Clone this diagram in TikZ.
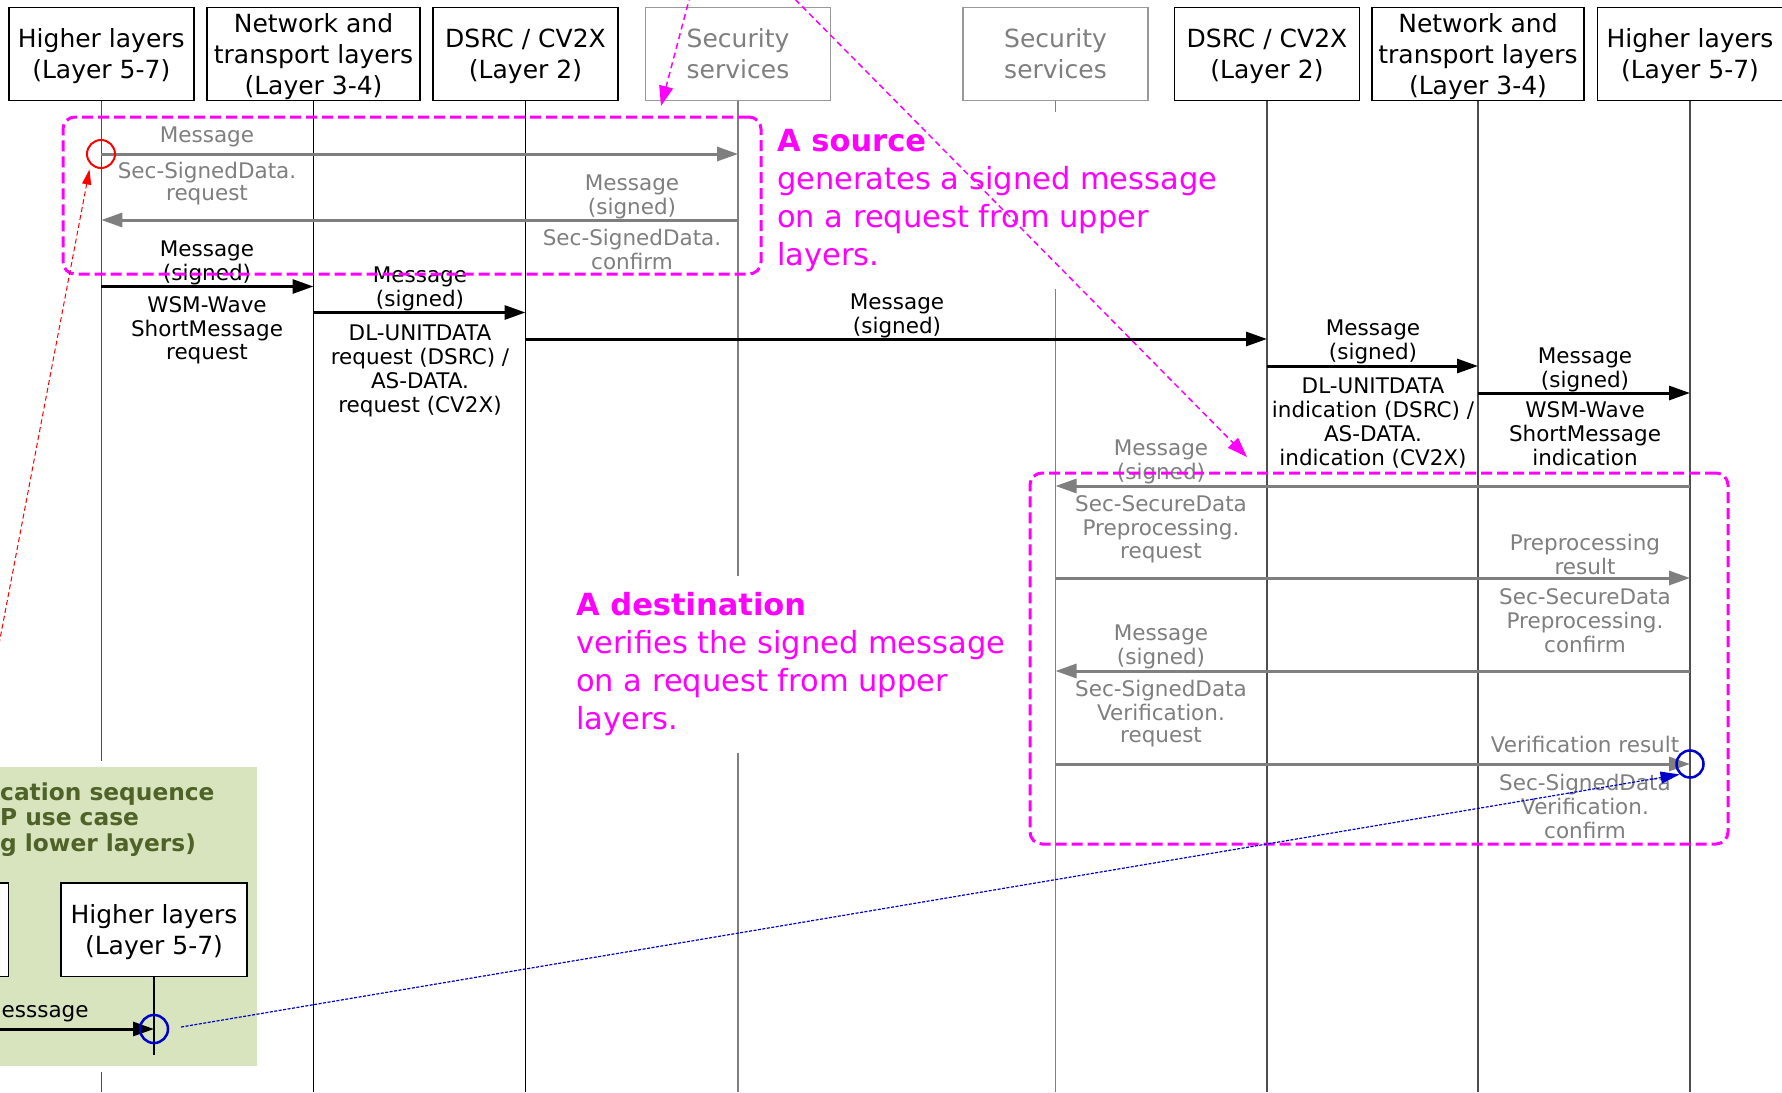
\documentclass[tikz,border=0pt]{standalone}
\usepackage{fontspec}
\setmainfont{DejaVu Sans}
\usetikzlibrary{arrows.meta}
\definecolor{gtext}{HTML}{7F7F7F}
\definecolor{gframe}{HTML}{999999}
\definecolor{mag}{HTML}{FF00FF}
\definecolor{darkolive}{HTML}{4F6228}
\definecolor{leaf}{HTML}{D7E4BD}
\definecolor{vblue}{HTML}{0000CC}
\definecolor{lifedark}{HTML}{4D4D4D}

% a message label, placed by the centre of its first line
\newcommand\msglbl[5][]{\node[lbl,anchor=north,#1] (#2) at (#3,#4-8.5) {#5};}
% extra head room on the first line of a lifeline head
\newcommand\hdtop{\rule{0pt}{24pt}}

\begin{document}
\begin{tikzpicture}[x=1pt,y=-1pt,
  hdr/.style={draw=black, line width=1.4pt, fill=white, minimum width=185pt,
    minimum height=93.4pt, align=center, inner sep=0pt,
    font=\fontsize{25}{31}\selectfont},
  hdrgray/.style={hdr, draw=gframe, text=gtext},
  life/.style={line width=1.1pt, draw=black},
  lifeheavy/.style={line width=1.6pt, draw=lifedark},
  lifegray/.style={line width=1.1pt, draw=gtext},
  blkmsg/.style={line width=3pt, draw=black, -{Triangle[length=21pt,width=14pt]}},
  grymsg/.style={line width=3pt, draw=gtext, -{Triangle[length=21pt,width=14pt]}},
  lbl/.style={align=center, inner sep=0pt, font=\fontsize{21.5}{22.5}\selectfont},
  gry/.style={text=gtext},
  note/.style={fill=white, text=mag, align=left, anchor=north west,
    inner xsep=6pt, inner ysep=12pt, font=\fontsize{30.5}{38.3}\selectfont},
  magbox/.style={draw=mag, line width=3pt, dash pattern=on 11pt off 5pt,
    rounded corners=12pt, inner sep=0pt},
  magarrow/.style={draw=mag, line width=1.5pt, dash pattern=on 6pt off 4pt,
    -{Triangle[length=20pt,width=14pt]}},
  gtitle/.style={text=darkolive, align=left, anchor=north west, inner sep=0pt,
    font=\fontsize{23.3}{25.5}\selectfont\bfseries},
  ringmark/.style={circle, line width=2.5pt, minimum size=28pt, inner sep=0pt},
]
\useasboundingbox (0,0) rectangle (1782,1092);
\clip (0,0) rectangle (1782,1092);
\fill[white] (0,0) rectangle (1782,1092);

% ---- lifeline heads ----
\node[hdr] (h1) at (101.3,54) {\hdtop Higher layers\\(Layer 5-7)};
\node[hdr, minimum width=213pt] (h2) at (313.5,54) {\hdtop Network and\\transport layers\\(Layer 3-4)};
\node[hdr] (h3) at (525.5,54) {\hdtop DSRC / CV2X\\(Layer 2)};
\node[hdrgray] (h4) at (738,54) {Security\\services};
\node[hdrgray] (h5) at (1055.5,54) {Security\\services};
\node[hdr] (h6) at (1267,54) {\hdtop DSRC / CV2X\\(Layer 2)};
\node[hdr, minimum width=212pt] (h7) at (1478,54) {\hdtop Network and\\transport layers\\(Layer 3-4)};
\node[hdr] (h8) at (1690,54) {\hdtop Higher layers\\(Layer 5-7)};

% ---- lifelines ----
\coordinate (bot) at (0,1092);
\draw[lifeheavy] (h1.south) -- (h1.south |- bot);
\draw[life] (h2.south) -- (h2.south |- bot);
\draw[life] (h3.south) -- (h3.south |- bot);
\draw[lifegray] (h4.south) -- (h4.south |- bot);
\draw[lifegray] (h5.south) -- (h5.south |- bot);
\draw[lifeheavy] (h6.south) -- (h6.south |- bot);
\draw[lifeheavy] (h7.south) -- (h7.south |- bot);
\draw[lifeheavy] (h8.south) -- (h8.south |- bot);

% ---- explanatory notes (white backing hides the lifelines) ----
\node[note] (srcnote) at (771,112) {\strut\textbf{A source}\\\strut generates a signed message\\\strut on a request from upper\\\strut layers.};
\node[note] (dstnote) at (570,576) {\strut\textbf{A destination}\\\strut verifies the signed message\\\strut on a request from upper\\\strut layers.};

% ---- source side: signing ----
\draw[grymsg] (h1 |- 0,154) -- (h4 |- 0,154);
\msglbl[gry]{l1a}{207}{135}{\strut Message}
\msglbl[gry]{l1b}{207}{170}{\strut Sec-SignedData.\\\strut request}
\draw[grymsg] (h4 |- 0,220) -- (h1 |- 0,220);
\msglbl[gry]{l2a}{632}{183}{\strut Message\\\strut (signed)}
\msglbl[gry]{l2b}{632}{237}{\strut Sec-SignedData.\\\strut confirm}

% ---- transmission down the stack and across ----
\draw[blkmsg] (h1 |- 0,286.5) -- (h2 |- 0,286.5);
\msglbl{l3a}{207}{249}{\strut Message\\\strut (signed)}
\msglbl{l3b}{207}{305}{\strut WSM-Wave\\\strut ShortMessage\\\strut request}
\draw[blkmsg] (h2 |- 0,312.5) -- (h3 |- 0,312.5);
\msglbl{l4a}{420}{275}{\strut Message\\\strut (signed)}
\msglbl{l4b}{420}{333}{\strut DL-UNITDATA\\\strut request (DSRC) /\\\strut AS-DATA.\\\strut request (CV2X)}
\draw[blkmsg] (h3 |- 0,339) -- (h6 |- 0,339);
\msglbl{l5a}{897}{302}{\strut Message\\\strut (signed)}
\draw[blkmsg] (h6 |- 0,366) -- (h7 |- 0,366);
\msglbl{l6a}{1373}{328}{\strut Message\\\strut (signed)}
\msglbl{l6b}{1373}{386}{\strut DL-UNITDATA\\\strut indication (DSRC) /\\\strut AS-DATA.\\\strut indication (CV2X)}
\draw[blkmsg] (h7 |- 0,393) -- (h8 |- 0,393);
\msglbl{l7a}{1585}{356}{\strut Message\\\strut (signed)}
\msglbl{l7b}{1585}{410}{\strut WSM-Wave\\\strut ShortMessage\\\strut indication}

% ---- destination side: preprocessing and verification ----
\draw[grymsg] (h8 |- 0,486) -- (h5 |- 0,486);
\msglbl[gry]{l8a}{1161}{448}{\strut Message\\\strut (signed)}
\msglbl[gry]{l8b}{1161}{504}{\strut Sec-SecureData\\\strut Preprocessing.\\\strut request}
\draw[grymsg] (h5 |- 0,578) -- (h8 |- 0,578);
\msglbl[gry]{l9a}{1585}{542}{\strut Preprocessing\\\strut result}
\msglbl[gry]{l9b}{1585}{597}{\strut Sec-SecureData\\\strut Preprocessing.\\\strut confirm}
\draw[grymsg] (h8 |- 0,671) -- (h5 |- 0,671);
\msglbl[gry]{l10a}{1161}{633}{\strut Message\\\strut (signed)}
\msglbl[gry]{l10b}{1161}{688}{\strut Sec-SignedData\\\strut Verification.\\\strut request}
\draw[grymsg] (h5 |- 0,764) -- (h8 |- 0,764);
\msglbl[gry]{l11a}{1585}{744}{\strut Verification result}
\msglbl[gry]{l11b}{1585}{782}{\strut Sec-SignedData\\\strut Verification.\\\strut confirm}

% ---- highlighted regions ----
\node[magbox, minimum width=698pt, minimum height=157pt] (srcbox) at (412,195.5) {};
\node[magbox, minimum width=698pt, minimum height=371pt] (dstbox) at (1379,658.5) {};
\coordinate (srcfrom) at (693,-15);
\coordinate (srcto) at (661,106);
\coordinate (dstfrom) at (781,-15);
\coordinate (dstto) at (1247,457);
\draw[magarrow] (srcfrom) -- (srcto);
\draw[magarrow] (dstfrom) -- (dstto);

% ---- inset: application sequence excerpt ----
\fill[white] (-10,761) rectangle (263,1072);
\fill[leaf] (-10,767) rectangle (257,1066);
\node[gtitle] (gtitle) at (0,782) {\strut cation sequence\\\strut P use case\\\strut g lower layers)};
\node[hdr, minimum width=108pt] (g0) at (-45.4,929.5) {};
\node[hdr, minimum width=186pt] (g1) at (154,929.5) {\hdtop Higher layers\\(Layer 5-7)};
\draw[life] (g1.south) -- (154,1055);
\draw[blkmsg] (g0 |- 0,1029) -- (g1 |- 0,1029);
\node[lbl, anchor=north west] (gm) at (1.5,1001.5) {\strut esssage};

% ---- markers and their links ----
\node[ringmark, draw=red, line width=2pt] (rc) at (101,154) {};
\node[ringmark, draw=vblue] (bc1) at (154,1029) {};
\node[ringmark, draw=vblue, minimum size=27pt] (bc2) at (1690,764) {};
\coordinate (redfrom) at (-4,660);
\draw[red, line width=1pt, dash pattern=on 5pt off 3pt,
  -{Triangle[length=15pt,width=9pt]}, shorten >=5pt] (redfrom) -- (rc.south west);
\draw[vblue, line width=1.2pt, dash pattern=on 3pt off 1.5pt,
  -{Triangle[length=19pt,width=12pt]}, shorten <=12pt] (bc1.east) -- (bc2.south west);
\end{tikzpicture}
\end{document}
